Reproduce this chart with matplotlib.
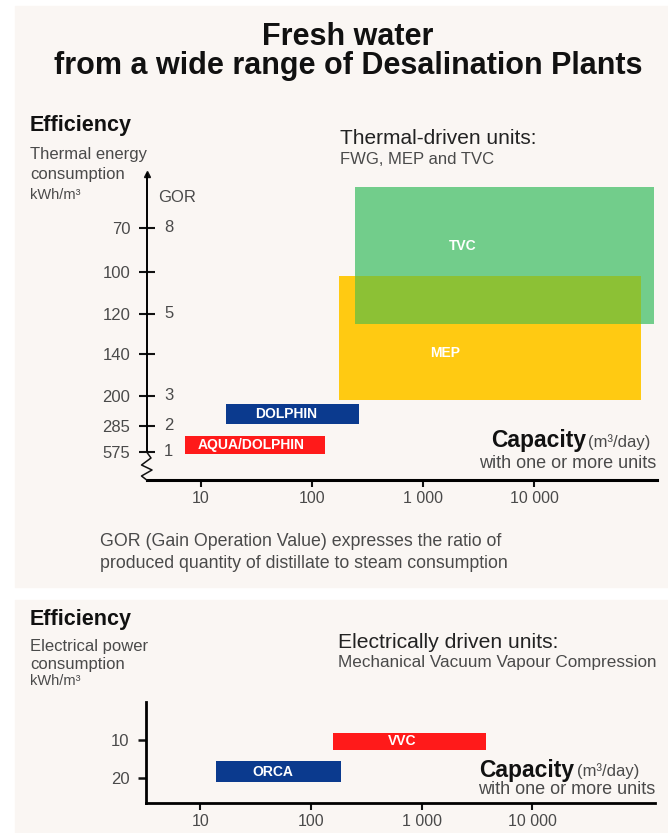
import numpy as np
import matplotlib
matplotlib.use("Agg")
import matplotlib.pyplot as plt
from matplotlib.patches import Rectangle
from matplotlib.lines import Line2D
from matplotlib.ticker import NullLocator

plt.rcParams['font.family'] = ['Liberation Sans', 'DejaVu Sans']

# ---- data ----
kwh_ticks = [70, 100, 120, 140, 200, 285, 575]          # thermal energy, kWh/m3
gor_kwh = [70, 120, 200, 285, 575]
gor_values = ['8', '5', '3', '2', '1']

cap_ticks = [10, 100, 1000, 10000]
cap_labels = ['10', '100', '1 000', '10 000']

thermal_units = ['AQUA/DOLPHIN', 'DOLPHIN', 'MEP', 'TVC']
thermal_cap_min = [7.2, 16.7, 176, 244]
thermal_cap_max = [132, 265, 91000, 120000]
thermal_kwh_low = [395, 223, 102, 42]
thermal_kwh_high = [600, 280, 212, 125]

elec_units = ['ORCA', 'VVC']
elec_cap_min = [14, 159]
elec_cap_max = [186, 3830]
elec_kwh_low = [15.6, 8.0]
elec_kwh_high = [21.1, 12.7]
elec_ticks = [10, 20]

# ---- colours / layout ----
RED, BLUE, YELLOW, GREEN, OLIVE = '#FF1A1A', '#0B3A8E', '#FFCA12', '#72CD8B', '#8CC135'
thermal_colors = [RED, BLUE, YELLOW, GREEN]
elec_colors = [BLUE, RED]
PANEL = '#FAF6F3'
INK = '#111111'
GREY = '#4a4a4a'

W, H = 668, 833
fig = plt.figure(figsize=(W / 100, H / 100), dpi=100)
fig.patch.set_facecolor('white')


def fx(px):
    return px / W


def fy(py):
    return 1 - py / H


def txt(x, y, s, **kw):
    kw.setdefault('va', 'center')
    kw.setdefault('color', INK)
    fig.text(fx(x), fy(y), s, **kw)


# background panels
fig.add_artist(Rectangle((fx(15), fy(587)), fx(W - 15), (587 - 6) / H,
                         transform=fig.transFigure, color=PANEL, zorder=-5))
fig.add_artist(Rectangle((fx(15), 0), fx(W - 15), (H - 600) / H,
                         transform=fig.transFigure, color=PANEL, zorder=-5))

# broken (non linear) kWh axis: pixel depth of each tick below the 70 tick
tick_depth = [0, 44, 86, 126, 168, 198, 224]
k_arr = np.asarray(kwh_ticks, float)
d_arr = np.asarray(tick_depth, float)
s_lo = (d_arr[1] - d_arr[0]) / (k_arr[1] - k_arr[0])
s_hi = (d_arr[-1] - d_arr[-2]) / (k_arr[-1] - k_arr[-2])


def to_depth(v):
    v = np.asarray(v, dtype=float)
    out = np.interp(v, k_arr, d_arr)
    out = np.where(v < k_arr[0], d_arr[0] + (v - k_arr[0]) * s_lo, out)
    out = np.where(v > k_arr[-1], d_arr[-1] + (v - k_arr[-1]) * s_hi, out)
    return out


def from_depth(d):
    d = np.asarray(d, dtype=float)
    out = np.interp(d, d_arr, k_arr)
    out = np.where(d < d_arr[0], k_arr[0] + (d - d_arr[0]) / s_lo, out)
    out = np.where(d > d_arr[-1], k_arr[-1] + (d - d_arr[-1]) / s_hi, out)
    return out


# ================= top chart : thermal units =================
ax = fig.add_axes([fx(146.7), fy(480), (657 - 146.7) / W, (480 - 174) / H])
ax.patch.set_alpha(0)
ax.set_xscale('log')
ax.set_yscale('function', functions=(to_depth, from_depth))
ax.set_xlim(3.24, 128000)
ax.set_ylim(float(from_depth(480 - 227.7)), float(from_depth(174 - 227.7)))

for i, name in enumerate(thermal_units):
    lo, hi = thermal_cap_min[i], thermal_cap_max[i]
    ax.barh(thermal_kwh_low[i], hi - lo, left=lo,
            height=thermal_kwh_high[i] - thermal_kwh_low[i],
            align='edge', color=thermal_colors[i], zorder=2)

# overlap of MEP and TVC
ov_x0 = max(thermal_cap_min[2], thermal_cap_min[3])
ov_x1 = min(thermal_cap_max[2], thermal_cap_max[3])
ov_y0 = max(thermal_kwh_low[2], thermal_kwh_low[3])
ov_y1 = min(thermal_kwh_high[2], thermal_kwh_high[3])
ax.barh(ov_y0, ov_x1 - ov_x0, left=ov_x0, height=ov_y1 - ov_y0,
        align='edge', color=OLIVE, zorder=3)

# bar labels
label_fx = [0.47, 0.45, 0.35, 0.36]
label_fy = [0.5, 0.5, 0.62, 0.43]
for i, name in enumerate(thermal_units):
    lo, hi = thermal_cap_min[i], thermal_cap_max[i]
    xl = lo * (hi / lo) ** label_fx[i]
    d0, d1 = to_depth(thermal_kwh_low[i]), to_depth(thermal_kwh_high[i])
    yl = float(from_depth(d0 + label_fy[i] * (d1 - d0)))
    ax.text(xl, yl, name, color='white', fontsize=10, fontweight='bold',
            ha='center', va='center', zorder=4)

ax.set_xticks(cap_ticks)
ax.set_xticklabels(cap_labels)
ax.xaxis.set_minor_locator(NullLocator())
ax.set_yticks(kwh_ticks)
ax.set_yticklabels([str(v) for v in kwh_ticks])
ax.yaxis.set_minor_locator(NullLocator())
ax.tick_params(axis='x', direction='out', length=5, width=1.5, pad=3,
               labelsize=11.5, color=INK, labelcolor=GREY)
ax.tick_params(axis='y', direction='inout', length=11.5, width=1.5, pad=6,
               labelsize=12, color=INK, labelcolor=GREY)
for side in ['top', 'right']:
    ax.spines[side].set_visible(False)
ax.spines['bottom'].set_linewidth(2.2)
ax.spines['left'].set_linewidth(1.4)
ax.spines['left'].set_bounds(kwh_ticks[-1], float(from_depth(174 - 227.7)))
ax.plot([0], [1], marker='^', ms=5, color=INK, transform=ax.transAxes,
        clip_on=False)

# GOR labels right of the axis
for v, g in zip(gor_kwh, gor_values):
    ax.annotate(g, xy=(0, v), xycoords=('axes fraction', 'data'),
                xytext=(12.5, 0), textcoords='offset points',
                ha='left', va='center', fontsize=12, color=GREY)

# zig-zag axis break
zx = [146.7, 151, 141.5, 152, 141.5, 146.7]
zy = [452, 458, 465, 470, 476, 480]
fig.add_artist(Line2D([fx(x) for x in zx], [fy(y) for y in zy],
                      transform=fig.transFigure, color=INK, lw=1.1))

# texts of the top panel
txt(348, 37, 'Fresh water', ha='center', fontsize=22, fontweight='bold')
txt(348, 66, 'from a wide range of Desalination Plants', ha='center',
    fontsize=22, fontweight='bold')
txt(30, 125, 'Efficiency', fontsize=15.5, fontweight='bold')
txt(30, 155, 'Thermal energy', fontsize=12, color=GREY)
txt(30, 175, 'consumption', fontsize=12, color=GREY)
txt(30, 195, 'kWh/m³', fontsize=10.5, color=GREY)
txt(158, 197, 'GOR', fontsize=12, color=GREY)
txt(340, 138, 'Thermal-driven units:', fontsize=15, color='#222222')
txt(340, 159, 'FWG, MEP and TVC', fontsize=12, color=GREY)
txt(586, 441, 'Capacity', ha='right', fontsize=16.5, fontweight='bold')
txt(588, 442, '(m³/day)', ha='left', fontsize=12, color=GREY)
txt(656, 464, 'with one or more units', ha='right', fontsize=13, color=GREY)
txt(100, 542, 'GOR (Gain Operation Value) expresses the ratio of',
    fontsize=12.8, color=GREY)
txt(100, 563, 'produced quantity of distillate to steam consumption',
    fontsize=12.8, color=GREY)

# ================= bottom chart : electrical units =================
bx = fig.add_axes([fx(146), fy(803.3), (655 - 146) / W, (803.3 - 701.7) / H])
bx.patch.set_alpha(0)
bx.set_xscale('log')
bx.set_xlim(3.24, 128000)
bx.set_ylim(26.8, -0.2)

for i, name in enumerate(elec_units):
    lo, hi = elec_cap_min[i], elec_cap_max[i]
    bx.barh(elec_kwh_low[i], hi - lo, left=lo,
            height=elec_kwh_high[i] - elec_kwh_low[i],
            align='edge', color=elec_colors[i], zorder=2)
    xl = lo * (hi / lo) ** 0.45
    yl = (elec_kwh_low[i] + elec_kwh_high[i]) / 2
    bx.text(xl, yl, name, color='white', fontsize=10, fontweight='bold',
            ha='center', va='center', zorder=4)

bx.set_xticks(cap_ticks)
bx.set_xticklabels(cap_labels)
bx.xaxis.set_minor_locator(NullLocator())
bx.set_yticks(elec_ticks)
bx.set_yticklabels([str(v) for v in elec_ticks])
bx.tick_params(axis='x', direction='out', length=5, width=1.5, pad=3,
               labelsize=11.5, color=INK, labelcolor=GREY)
bx.tick_params(axis='y', direction='out', length=6, width=1.8, pad=6,
               labelsize=12, color=INK, labelcolor=GREY)
for side in ['top', 'right']:
    bx.spines[side].set_visible(False)
bx.spines['bottom'].set_linewidth(2.0)
bx.spines['left'].set_linewidth(2.0)

txt(30, 619, 'Efficiency', fontsize=15.5, fontweight='bold')
txt(30, 647, 'Electrical power', fontsize=12, color=GREY)
txt(30, 664, 'consumption', fontsize=12, color=GREY)
txt(30, 681, 'kWh/m³', fontsize=10.5, color=GREY)
txt(338, 642, 'Electrically driven units:', fontsize=15.2, color='#222222')
txt(338, 663, 'Mechanical Vacuum Vapour Compression', fontsize=12.3, color=GREY)
txt(574, 770, 'Capacity', ha='right', fontsize=16.5, fontweight='bold')
txt(577, 771, '(m³/day)', ha='left', fontsize=12, color=GREY)
txt(655, 790, 'with one or more units', ha='right', fontsize=13, color=GREY)

fig.savefig('out.png', dpi=100)
